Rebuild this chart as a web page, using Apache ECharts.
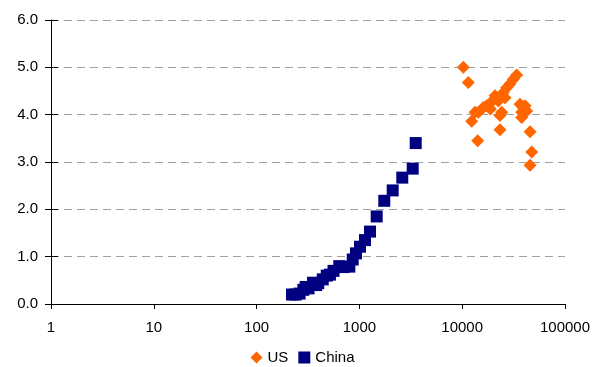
<!DOCTYPE html>
<html>
<head>
<meta charset="utf-8">
<script src="https://cdn.jsdelivr.net/npm/echarts@6/dist/echarts.min.js"></script>
<style>html,body{margin:0;padding:0;background:#fff;}#c{width:605px;height:367px;}</style>
</head>
<body>
<div id="c"></div>
<script>
const xTicks = [1, 10, 100, 1000, 10000, 100000];
const yTicks = [0, 1, 2, 3, 4, 5, 6];
const usData = [
  [10250, 5.00], [11460, 4.68], [33900, 4.84], [31400, 4.75], [29150, 4.65],
  [27100, 4.57], [25100, 4.47], [20850, 4.40], [20080, 4.31], [22450, 4.29],
  [26080, 4.36], [17310, 4.19], [16040, 4.15], [14340, 4.05], [13330, 4.05],
  [12370, 3.86], [24220, 4.05], [23330, 3.98], [23330, 3.68], [14150, 3.45],
  [36500, 4.22], [40800, 4.19], [42400, 4.08], [37900, 4.05], [37900, 3.94],
  [39500, 4.14], [45700, 3.64], [47400, 3.21], [45700, 2.93], [18800, 4.12]
];
const chinaData = [
  [221, 0.20], [240, 0.20], [262, 0.22], [285, 0.30], [300, 0.36],
  [320, 0.33], [354, 0.45], [380, 0.40], [398, 0.44], [440, 0.52],
  [481, 0.60], [517, 0.62], [560, 0.70], [637, 0.80], [700, 0.78],
  [798, 0.79], [861, 0.94], [927, 1.07], [1013, 1.21], [1133, 1.35],
  [1268, 1.53], [1473, 1.85], [1746, 2.18], [2108, 2.40], [2612, 2.67],
  [3300, 2.86], [3530, 3.40]
];
const chart = echarts.init(document.getElementById('c'), null, {renderer: 'canvas'});
const font = 'Liberation Sans, Arial, sans-serif';
const yBase = {
  type: 'value', min: yTicks[0], max: yTicks[yTicks.length - 1], interval: 1
};
chart.setOption({
  animation: false,
  backgroundColor: '#fff',
  grid: {left: 51, right: 40, top: 20, bottom: 63, containLabel: false},
  legend: {
    top: 345, left: 'center', itemGap: 10, itemWidth: 12, itemHeight: 12,
    textStyle: {fontFamily: font, fontSize: 15, color: '#000', padding: [0, 0, 0, 0]},
    data: [{name: 'US', icon: 'diamond'}, {name: 'China', icon: 'rect'}]
  },
  xAxis: {
    type: 'log', logBase: 10, min: xTicks[0], max: xTicks[xTicks.length - 1], splitNumber: 5,
    axisLine: {show: true, lineStyle: {color: '#000', width: 1}},
    axisTick: {show: true, inside: false, length: 5, lineStyle: {color: '#000'}},
    minorTick: {show: false},
    splitLine: {show: false},
    axisLabel: {fontFamily: font, fontSize: 15, color: '#000', margin: 16,
      formatter: v => String(Math.round(v))}
  },
  yAxis: [
    Object.assign({}, yBase, {
      axisLine: {show: true, lineStyle: {color: '#000', width: 1}},
      axisTick: {show: true, inside: false, length: 6, lineStyle: {color: '#000'}},
      splitLine: {show: true, lineStyle: {color: '#a0a0a0', type: [8, 5], width: 1}},
      axisLabel: {fontFamily: font, fontSize: 15, color: '#000', margin: 13,
        formatter: v => v.toFixed(1)}
    }),
    Object.assign({}, yBase, {
      position: 'left',
      axisLine: {show: false},
      axisTick: {show: true, inside: true, length: 7, lineStyle: {color: '#000'}},
      splitLine: {show: false},
      axisLabel: {show: false}
    })
  ],
  series: [
    {name: 'US', type: 'scatter', symbol: 'diamond', symbolSize: 13,
      itemStyle: {color: '#FF6600', opacity: 1}, data: usData},
    {name: 'China', type: 'scatter', symbol: 'rect', symbolSize: 12,
      itemStyle: {color: '#000080', opacity: 1}, data: chinaData}
  ]
});
</script>
</body>
</html>
